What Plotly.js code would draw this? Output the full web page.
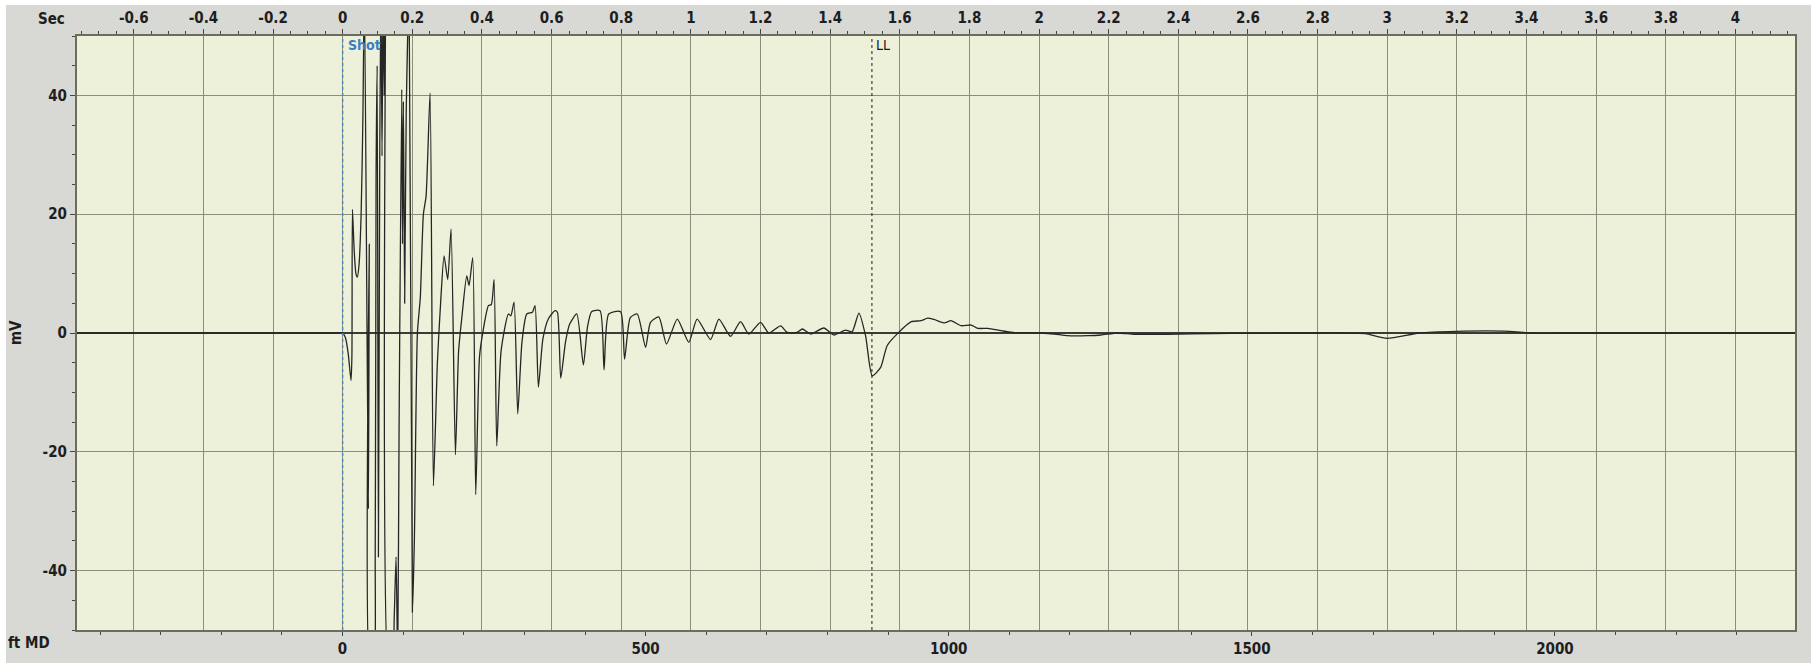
<!DOCTYPE html>
<html>
<head>
<meta charset="utf-8">
<script src="https://cdn.plot.ly/plotly-3.0.1.min.js"></script>
<style>
  html, body { margin: 0; padding: 0; background: #ffffff; width: 1811px; height: 663px; overflow: hidden; }
  #chart { position: absolute; left: 6px; top: 5px; width: 1805px; height: 658px; }
</style>
</head>
<body>
<div id="chart"></div>
<script>
// ---- data (time in seconds, signal in mV) ----
const timeSec = [
  -0.763, -0.6, -0.4, -0.2, -0.05, -0.01, 0, 0.008, 0.016, 0.024, 0.0265, 0.028, 0.033, 0.038, 0.042, 0.047, 0.053, 0.058, 0.0624,
  0.0739, 0.0765, 0.0795, 0.088, 0.0935, 0.0959, 0.099, 0.1026, 0.1065, 0.110, 0.113, 0.116, 0.119,
  0.123, 0.1332, 0.142, 0.148, 0.1534, 0.158, 0.162, 0.1697, 0.1718, 0.1744, 0.178, 0.1825, 0.1907,
  0.2003, 0.206, 0.2146, 0.223, 0.2318, 0.2395, 0.251, 0.2606, 0.272, 0.2812, 0.2912, 0.3017, 0.3113,
  0.3238, 0.333, 0.3419, 0.3563, 0.363, 0.3735, 0.3821, 0.393, 0.4042, 0.4186, 0.427, 0.4348, 0.4425,
  0.455, 0.476, 0.483, 0.4922, 0.5028, 0.515, 0.5286, 0.545, 0.5525, 0.5621, 0.575, 0.5908, 0.61,
  0.6167, 0.6263, 0.64, 0.652, 0.6722, 0.6913, 0.703, 0.7153, 0.7392, 0.7507, 0.764, 0.798, 0.8096,
  0.826, 0.846, 0.870, 0.884, 0.908, 0.930, 0.961, 0.994, 1.018, 1.0566, 1.0805, 1.114, 1.1427,
  1.1667, 1.2, 1.224, 1.2576, 1.2767, 1.305, 1.32, 1.344, 1.382, 1.411, 1.444, 1.463, 1.4826, 1.5017,
  1.5209, 1.545, 1.564, 1.597, 1.633, 1.661, 1.68, 1.70, 1.728, 1.747, 1.776, 1.805, 1.824, 1.853,
  1.891, 1.93, 2.006, 2.044, 2.082, 2.14, 2.178, 2.226, 2.274, 2.37, 2.5, 2.6, 2.7, 2.8, 2.88, 2.937, 2.9995, 3.091,
  3.197, 3.35, 3.41, 3.5, 3.7, 3.9, 4.05, 4.171
];
const signalMv = [
  0, 0, 0, 0, 0, 0, 0, -0.8, -3.5, -8, -4, 20.8, 14, 10, 9.4, 11.5, 20, 36, 58,
  -29.6, 15, -58, -58, -37, 26, 45, -37.7, 30, 58, 29.8, 58, 40,
  58, -58, -58, -48, -37.7, -56, -16, 41, 15, 39, 5, 37, 58,
  -47, -34.6, 0, 6, 20, 23, 40.4, -25.7, -5, 5, 13, 9, 17.5,
  -20.5, -3, 2.4, 9.6, 8, 12.7, -27.2, -4, 0.7, 4.6, 4.8, 9, -19,
  -3, 3.2, 2.9, 5.2, -13.6, -1.5, 3.2, 3.5, 4.6, -9.1, -1, 2.4, 3.75,
  3.5, -7.6, -1.5, 1.5, 3.2, -5.4, 1, 3.6, 3.75, -6.2, 3.2, 3.6, -4.4,
  2.6, 3.2, -2.4, 1.8, 2.7, -1.85, 2.35, -1.57, 2.35, -1.1, 2.35, -0.56, 1.9,
  -0.17, 1.8, 0, 1.2, 0.1, 0.1, 0.67, -0.17, 0.84, -0.34, 0.5, 0.2, 3.36, -0.45,
  -7.2, -5.8, -2.1, 0.1, 1.9, 2.07, 2.5, 2.24, 1.7, 2.07, 1.23, 1.34, 0.78, 0.78,
  0.4, 0.05, 0, -0.17, -0.45, -0.45, -0.34, 0, -0.22, -0.22, -0.1, -0.05, 0, 0, 0, -0.1, -0.9, 0,
  0.28, 0.28, 0, 0, 0, 0, 0, 0
];

// axis ticks
const secTicks = [-0.6, -0.4, -0.2, 0, 0.2, 0.4, 0.6, 0.8, 1, 1.2, 1.4, 1.6, 1.8, 2, 2.2, 2.4, 2.6, 2.8, 3, 3.2, 3.4, 3.6, 3.8, 4];
const secTickText = ['-0.6', '-0.4', '-0.2', '0', '0.2', '0.4', '0.6', '0.8', '1', '1.2', '1.4', '1.6', '1.8', '2', '2.2', '2.4', '2.6', '2.8', '3', '3.2', '3.4', '3.6', '3.8', '4'];
const ftTicks = [0, 500, 1000, 1500, 2000];
const ftTickText = ['0', '500', '1000', '1500', '2000'];
const mvTicks = [-40, -20, 0, 20, 40];
const mvTickText = ['-40', '-20', '0', '20', '40'];

// markers
const markerTimes = [0, 1.52];
const markerLabels = ['Shot', 'LL'];

// axis extents
const secRange = [-0.763, 4.171];
const ftRange = [-438, 2396];
const mvRange = [-50, 50];

const FONT = 'DejaVu Sans Condensed, Liberation Sans Narrow, Arial Narrow, sans-serif';
const tickFont = { family: FONT, size: 15, color: '#1e1e1e', weight: 'bold' };
const gridColor = '#8c8e7c';
const frameColor = '#6a6c5c';

const traces = [
  { // invisible helper so the depth axis subplot exists
    x: [0], y: [null], xaxis: 'x', yaxis: 'y', type: 'scatter', mode: 'lines',
    showlegend: false, hoverinfo: 'skip'
  },
  {
    x: timeSec, y: signalMv, xaxis: 'x2', yaxis: 'y', type: 'scatter', mode: 'lines',
    line: { color: '#262626', width: 1.3, shape: 'spline', smoothing: 0.6 },
    showlegend: false
  }
];

const layout = {
  width: 1805, height: 658,
  margin: { l: 71, r: 16, t: 31, b: 33 },
  paper_bgcolor: '#d8d8d4',
  plot_bgcolor: '#eef1d9',
  showlegend: false,
  xaxis: {
    range: ftRange, tickmode: 'array', tickvals: ftTicks, ticktext: ftTickText,
    side: 'bottom', showgrid: false, zeroline: false,
    showline: true, linecolor: frameColor, linewidth: 2,
    ticks: 'outside', ticklen: 4, tickwidth: 1, tickcolor: '#444',
    tickfont: tickFont,
    minor: { tickmode: 'linear', tick0: 0, dtick: 100, ticks: 'outside', ticklen: 3, tickcolor: '#444', showgrid: false }
  },
  xaxis2: {
    range: secRange, overlaying: 'x', side: 'top', anchor: 'y',
    tickmode: 'array', tickvals: secTicks, ticktext: secTickText,
    showgrid: true, gridcolor: gridColor, gridwidth: 1, zeroline: false,
    showline: true, linecolor: frameColor, linewidth: 2,
    ticks: 'outside', ticklen: 5, tickwidth: 1, tickcolor: '#444',
    tickfont: tickFont,
    minor: { tickmode: 'linear', tick0: 0, dtick: 0.05, ticks: 'outside', ticklen: 3, tickcolor: '#444', showgrid: false }
  },
  yaxis: {
    range: mvRange, tickmode: 'array', tickvals: mvTicks, ticktext: mvTickText,
    showgrid: true, gridcolor: gridColor, gridwidth: 1,
    zeroline: true, zerolinecolor: '#3a3a36', zerolinewidth: 1.6,
    showline: true, mirror: true, linecolor: frameColor, linewidth: 2,
    ticks: 'outside', ticklen: 5, tickwidth: 1, tickcolor: '#444',
    tickfont: tickFont,
    minor: { tickmode: 'linear', tick0: 0, dtick: 5, ticks: 'outside', ticklen: 3, tickcolor: '#444', showgrid: false }
  },
  shapes: [
    { type: 'line', xref: 'x2', yref: 'paper', x0: markerTimes[0], x1: markerTimes[0], y0: 0, y1: 1,
      line: { color: '#3d8fd6', width: 1.5, dash: 'dot' } },
    { type: 'line', xref: 'x2', yref: 'paper', x0: markerTimes[1], x1: markerTimes[1], y0: 0, y1: 1,
      line: { color: '#1a1a1a', width: 1, dash: 'dot' } }
  ],
  annotations: [
    { xref: 'x2', yref: 'paper', x: markerTimes[0], y: 1, xanchor: 'left', yanchor: 'top',
      xshift: 3, yshift: 1, showarrow: false, text: markerLabels[0],
      font: { family: FONT, size: 14, color: '#3a7fc6', weight: 'bold' } },
    { xref: 'x2', yref: 'paper', x: markerTimes[1], y: 1, xanchor: 'left', yanchor: 'top',
      xshift: 2, yshift: 1, showarrow: false, text: markerLabels[1],
      font: { family: FONT, size: 14, color: '#1a1a1a' } },
    { xref: 'paper', yref: 'paper', x: -0.0151, y: 1.0278, xanchor: 'center', yanchor: 'middle',
      showarrow: false, text: 'Sec', font: { family: FONT, size: 15, color: '#1e1e1e', weight: 'bold' } },
    { xref: 'paper', yref: 'paper', x: -0.028, y: -0.022, xanchor: 'center', yanchor: 'middle',
      showarrow: false, text: 'ft MD', font: { family: FONT, size: 15, color: '#1e1e1e', weight: 'bold' } },
    { xref: 'paper', yref: 'paper', x: -0.0355, y: 0.5, xanchor: 'center', yanchor: 'middle',
      textangle: -90, showarrow: false, text: 'mV', font: { family: FONT, size: 15, color: '#1e1e1e', weight: 'bold' } }
  ]
};

Plotly.newPlot('chart', traces, layout, { staticPlot: true, displayModeBar: false });
</script>
</body>
</html>
